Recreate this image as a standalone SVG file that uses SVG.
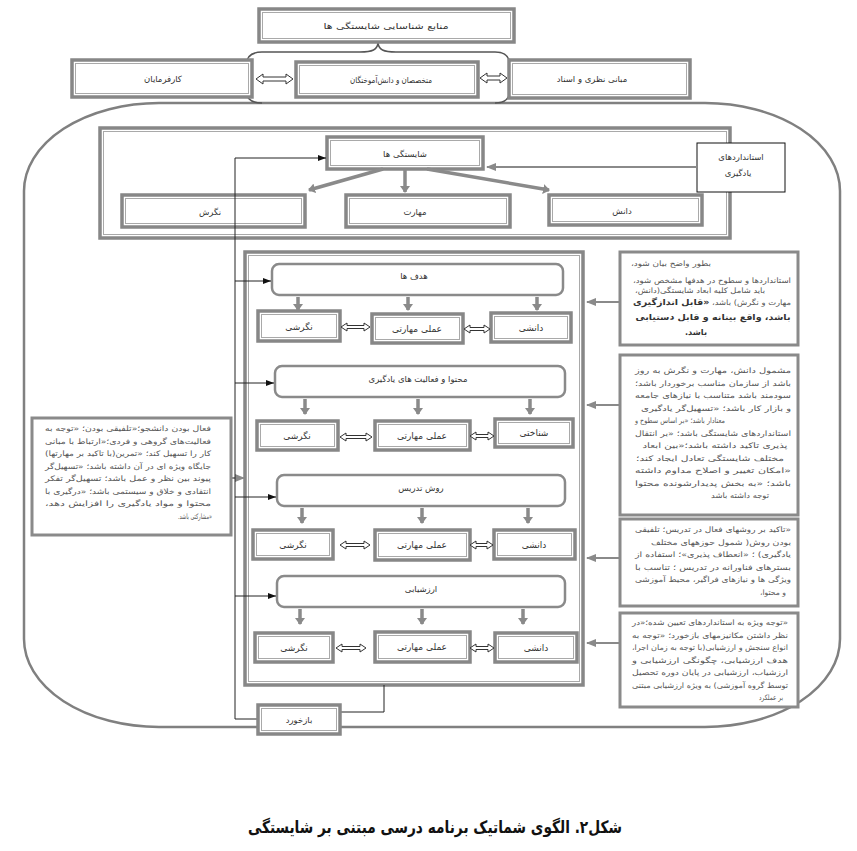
<svg xmlns="http://www.w3.org/2000/svg" width="857" height="851" viewBox="0 0 857 851">
<style>
.o{fill:#fff;stroke:#878787;stroke-width:3.5}
.i{fill:none;stroke:#a9a9a9;stroke-width:1}
.rb{fill:#fff;stroke:#8a8a8a;stroke-width:2.5}
.tb{fill:#fff;stroke:#8a8a8a;stroke-width:3}
.t{font-family:"DejaVu Sans",sans-serif;font-size:8.5px;fill:#333;text-anchor:middle;direction:rtl}
.tb9{font-family:"DejaVu Sans",sans-serif;font-size:9px;fill:#333;text-anchor:middle;direction:rtl}
.ex{font-family:"DejaVu Sans",sans-serif;font-size:7.5px;fill:#555;text-anchor:middle;direction:rtl}
.exb{font-family:"DejaVu Sans",sans-serif;font-size:8.5px;fill:#333;font-weight:bold;text-anchor:middle;direction:rtl}
.g{fill:none;stroke:#8a8a8a;stroke-width:2;marker-end:url(#gh)}
.d{fill:none;stroke:#8a8a8a;stroke-width:3.5;marker-end:url(#dh)}
.k{fill:none;stroke:#222;stroke-width:1}
.ka{fill:none;stroke:#222;stroke-width:1;marker-end:url(#kh)}
.db{fill:#fff;stroke:#333;stroke-width:1}
</style>
<defs>
<marker id="gh" markerUnits="userSpaceOnUse" markerWidth="10" markerHeight="8" refX="9" refY="4" orient="auto"><path d="M0,0 L10,4 L0,8 z" fill="#8a8a8a"/></marker>
<marker id="dh" markerUnits="userSpaceOnUse" markerWidth="7" markerHeight="10" refX="6" refY="5" orient="auto"><path d="M0,0 L7,5 L0,10 z" fill="#8a8a8a"/></marker>
<marker id="kh" markerUnits="userSpaceOnUse" markerWidth="8" markerHeight="6" refX="8" refY="3" orient="auto"><path d="M0,0 L8,3 L0,6 z" fill="#111"/></marker>
</defs>

<!-- big rounded outline -->
<rect x="24" y="103" width="816" height="624" rx="135" ry="88" fill="none" stroke="#808080" stroke-width="2.5"/>

<!-- brace -->
<path d="M378 42 C378 50 372 52 360 52 L262 52 Q246 52 246 66 L246 90 Q246 103 262 103 M378 42 C378 50 384 52 396 52 L495 52 Q510 52 510 66 L510 90 Q510 103 495 103" fill="none" stroke="#555" stroke-width="1.5"/>

<g id="sources"><rect class="o" x="259" y="9" width="255" height="33"/><rect class="i" x="262.5" y="12.5" width="248" height="26"/><text class="t" x="386" y="29" textLength="125" lengthAdjust="spacingAndGlyphs">منابع شناسایی شایستگی ها</text></g>
<g id="employers"><rect class="o" x="72" y="60" width="180" height="37"/><rect class="i" x="75.5" y="63.5" width="173" height="30"/><text class="t" x="163" y="82">کارفرمایان</text></g>
<g id="experts"><rect class="o" x="296" y="62" width="182" height="35"/><rect class="i" x="299.5" y="65.5" width="175" height="28"/><text class="t" x="391" y="83" textLength="82" lengthAdjust="spacingAndGlyphs">متخصصان و دانش‌آموختگان</text></g>
<g id="theory"><rect class="o" x="509" y="60" width="181" height="38"/><rect class="i" x="512.5" y="63.5" width="174" height="31"/><text class="t" x="592" y="82">مبانی نظری و اسناد</text></g>

<!-- competency frame -->
<g id="compFrame"><rect class="o" x="100" y="128" width="630" height="110"/><rect class="i" x="103.5" y="131.5" width="623" height="103"/></g>
<g id="competencies"><rect class="o" x="327" y="137" width="156" height="32"/><rect class="i" x="330.5" y="140.5" width="149" height="25"/><text class="t" x="405" y="157">شایستگی ها</text></g>
<g id="attitude"><rect class="o" x="122" y="195" width="183" height="32"/><rect class="i" x="125.5" y="198.5" width="176" height="25"/><text class="t" x="210" y="215">نگرش</text></g>
<g id="skill"><rect class="o" x="346" y="195" width="164" height="32"/><rect class="i" x="349.5" y="198.5" width="157" height="25"/><text class="t" x="415" y="215">مهارت</text></g>
<g id="knowledge"><rect class="o" x="549" y="195" width="153" height="30"/><rect class="i" x="552.5" y="198.5" width="146" height="23"/><text class="t" x="622" y="214">دانش</text></g>
<g id="standards"><rect x="697" y="143" width="88" height="49" fill="#fff" stroke="#111" stroke-width="1"/><text class="t" x="741" y="160">استانداردهای</text><text class="t" x="738" y="176">یادگیری</text></g>

<!-- process frame -->
<g id="processFrame"><rect class="o" x="245" y="252" width="338" height="433"/><rect class="i" x="248.5" y="255.5" width="331" height="426"/></g>

<g id="goals"><rect class="rb" x="272" y="264" width="291" height="31" rx="7"/><text class="t" x="414" y="279">هدف ها</text></g>
<g id="r1a"><rect class="o" x="258" y="311" width="82" height="30"/><rect class="i" x="261.5" y="314.5" width="75" height="23"/><text class="tb9" x="299" y="330">نگرشی</text></g>
<g id="r1b"><rect class="o" x="372" y="314" width="91" height="29"/><rect class="i" x="375.5" y="317.5" width="84" height="22"/><text class="tb9" x="417" y="332">عملی مهارتی</text></g>
<g id="r1c"><rect class="o" x="491" y="313" width="80" height="29"/><rect class="i" x="494.5" y="316.5" width="73" height="22"/><text class="tb9" x="531" y="331">دانشی</text></g>

<g id="content"><rect class="rb" x="275" y="366" width="290" height="31" rx="7"/><text class="t" x="418" y="382">محتوا و فعالیت های یادگیری</text></g>
<g id="r2a"><rect class="o" x="257" y="421" width="81" height="29"/><rect class="i" x="260.5" y="424.5" width="74" height="22"/><text class="tb9" x="297" y="439">نگرشی</text></g>
<g id="r2b"><rect class="o" x="375" y="421" width="95" height="29"/><rect class="i" x="378.5" y="424.5" width="88" height="22"/><text class="tb9" x="422" y="439">عملی مهارتی</text></g>
<g id="r2c"><rect class="o" x="495" y="419" width="78" height="28"/><rect class="i" x="498.5" y="422.5" width="71" height="21"/><text class="tb9" x="534" y="436">شناختی</text></g>

<g id="method"><rect class="rb" x="277" y="475" width="288" height="31" rx="7"/><text class="t" x="421" y="491">روش تدریس</text></g>
<g id="r3a"><rect class="o" x="253" y="530" width="80" height="29"/><rect class="i" x="256.5" y="533.5" width="73" height="22"/><text class="tb9" x="293" y="548">نگرشی</text></g>
<g id="r3b"><rect class="o" x="375" y="530" width="95" height="30"/><rect class="i" x="378.5" y="533.5" width="88" height="23"/><text class="tb9" x="422" y="548">عملی مهارتی</text></g>
<g id="r3c"><rect class="o" x="494" y="530" width="81" height="29"/><rect class="i" x="497.5" y="533.5" width="74" height="22"/><text class="tb9" x="534" y="548">دانشی</text></g>

<g id="evaluation"><rect class="rb" x="277" y="576" width="288" height="31" rx="7"/><text class="t" x="421" y="592">ارزشیابی</text></g>
<g id="r4a"><rect class="o" x="255" y="633" width="78" height="29"/><rect class="i" x="258.5" y="636.5" width="71" height="22"/><text class="tb9" x="294" y="651">نگرشی</text></g>
<g id="r4b"><rect class="o" x="375" y="632" width="95" height="30"/><rect class="i" x="378.5" y="635.5" width="88" height="23"/><text class="tb9" x="422" y="650">عملی مهارتی</text></g>
<g id="r4c"><rect class="o" x="495" y="633" width="82" height="29"/><rect class="i" x="498.5" y="636.5" width="75" height="22"/><text class="tb9" x="536" y="651">دانشی</text></g>

<!-- connectors -->
<g id="connectors">
<path class="db" d="M256 79 L263 74 L263 77 L286 77 L286 74 L293 79 L286 84 L286 81 L263 81 L263 84 Z"/>
<path class="db" d="M480 78 L487 73 L487 76 L500 76 L500 73 L507 78 L500 83 L500 80 L487 80 L487 83 Z"/>
<path class="g" d="M697 167 L487 167"/>
<path class="d" d="M383 169 L309 190"/>
<path class="d" d="M405 170 L405 192"/>
<path class="d" d="M427 169 L549 190"/>
<path class="d" d="M298 297 L298 310"/><path class="d" d="M408 297 L408 310"/><path class="d" d="M537 297 L537 310"/>
<path class="d" d="M305 399 L305 414"/><path class="d" d="M418 399 L418 414"/><path class="d" d="M530 399 L530 414"/>
<path class="d" d="M302 508 L302 523"/><path class="d" d="M422 508 L422 523"/><path class="d" d="M528 508 L528 523"/>
<path class="d" d="M300 609 L300 624"/><path class="d" d="M422 609 L422 624"/><path class="d" d="M523 609 L523 624"/>
<path class="db" d="M341 327 L347 323 L347 325.5 L364 325.5 L364 323 L370 327 L364 331 L364 328.5 L347 328.5 L347 331 Z"/>
<path class="db" d="M464 329 L470 325 L470 327.5 L484 327.5 L484 325 L490 329 L484 333 L484 330.5 L470 330.5 L470 333 Z"/>
<path class="db" d="M340 437 L346 433 L346 435.5 L366 435.5 L366 433 L372 437 L366 441 L366 438.5 L346 438.5 L346 441 Z"/>
<path class="db" d="M470 436 L476 432 L476 434.5 L488 434.5 L488 432 L494 436 L488 440 L488 437.5 L476 437.5 L476 440 Z"/>
<path class="db" d="M340 545 L346 541 L346 543.5 L364 543.5 L364 541 L370 545 L364 549 L364 546.5 L346 546.5 L346 549 Z"/>
<path class="db" d="M470 545 L476 541 L476 543.5 L487 543.5 L487 541 L493 545 L487 549 L487 546.5 L476 546.5 L476 549 Z"/>
<path class="db" d="M336 648 L342 644 L342 646.5 L360 646.5 L360 644 L366 648 L360 652 L360 649.5 L342 649.5 L342 652 Z"/>
<path class="db" d="M470 648 L476 644 L476 646.5 L488 646.5 L488 644 L494 648 L488 652 L488 649.5 L476 649.5 L476 652 Z"/>
<path class="g" d="M620 302 L587 302"/>
<path class="g" d="M620 405 L587 405"/>
<path class="g" d="M620 558 L587 558"/>
<path class="g" d="M620 643 L587 643"/>
<path class="g" d="M231 478 L244 478"/>
<path class="k" d="M384 685 L384 712 L340 712"/>
<path class="k" d="M258 719 L235 719 L235 158"/>
<path class="ka" d="M235 158 L326 158"/>
<path class="ka" d="M235 281 L271 281"/>
<path class="ka" d="M235 383 L274 383"/>
<path class="ka" d="M235 497 L276 497"/>
<path class="ka" d="M235 596 L276 596"/>
</g>

<g id="feedback"><rect class="o" x="258" y="705" width="82" height="29"/><rect class="i" x="261.5" y="708.5" width="75" height="22"/><text class="t" x="299" y="723">بازخورد</text></g>

<!-- explanatory boxes -->
<g id="note1"><rect class="tb" x="620" y="252" width="178" height="93"/>
<text class="ex" x="671" y="266" textLength="80" lengthAdjust="spacingAndGlyphs">بطور واضح بیان شود،</text>
<text class="ex" x="712" y="283" textLength="158" lengthAdjust="spacingAndGlyphs">استانداردها و سطوح در هدفها مشخص شود،</text>
<text class="ex" x="700" y="293" textLength="130" lengthAdjust="spacingAndGlyphs">باید شامل کلیه ابعاد شایستگی(دانش،</text>
<text class="exb" x="712" y="305" textLength="158" lengthAdjust="spacingAndGlyphs"><tspan style="font-weight:normal;font-size:7.5px;fill:#555">مهارت و نگرش) باشد، </tspan>«قابل اندازگیری</text>
<text class="exb" x="713" y="320" textLength="155" lengthAdjust="spacingAndGlyphs">باشد، واقع بینانه و قابل دستیابی</text>
<text class="exb" x="696" y="335" textLength="22" lengthAdjust="spacingAndGlyphs">باشد.</text></g>

<g id="note2"><rect class="tb" x="620" y="355" width="178" height="160"/>
<text class="ex" x="713" y="373" textLength="156" lengthAdjust="spacingAndGlyphs">مشمول دانش، مهارت و نگرش به روز</text>
<text class="ex" x="713" y="385.5" textLength="156" lengthAdjust="spacingAndGlyphs">باشد از سازمان مناسب برخوردار باشد؛</text>
<text class="ex" x="713" y="398" textLength="156" lengthAdjust="spacingAndGlyphs">سودمند باشد متناسب با نیازهای جامعه</text>
<text class="ex" x="716" y="410.5" textLength="150" lengthAdjust="spacingAndGlyphs">و بازار کار باشد؛ «تسهیل‌گر یادگیری</text>
<text class="ex" x="680" y="423" textLength="90" lengthAdjust="spacingAndGlyphs">معنادار باشد؛ «بر اساس سطوح و</text>
<text class="ex" x="713" y="435.5" textLength="156" lengthAdjust="spacingAndGlyphs">استانداردهای شایستگی باشد؛ «بر انتقال</text>
<text class="ex" x="715" y="448" textLength="145" lengthAdjust="spacingAndGlyphs">پذیری تاکید داشته باشد؛«بین ابعاد</text>
<text class="ex" x="710" y="460.5" textLength="148" lengthAdjust="spacingAndGlyphs">مختلف شایستگی تعادل ایجاد کند؛</text>
<text class="ex" x="713" y="473" textLength="156" lengthAdjust="spacingAndGlyphs">«امکان تغییر و اصلاح مداوم داشته</text>
<text class="ex" x="713" y="485.5" textLength="156" lengthAdjust="spacingAndGlyphs">باشد؛ «به بخش پدیدارشونده محتوا</text>
<text class="ex" x="740" y="498" textLength="58" lengthAdjust="spacingAndGlyphs">توجه داشته باشد</text></g>

<g id="note3"><rect class="tb" x="620" y="519" width="178" height="87"/>
<text class="ex" x="713" y="532" textLength="156" lengthAdjust="spacingAndGlyphs">«تاکید بر روشهای فعال در تدریس؛ تلفیقی</text>
<text class="ex" x="721" y="544.5" textLength="140" lengthAdjust="spacingAndGlyphs">بودن روش( شمول حوزههای مختلف</text>
<text class="ex" x="713" y="557" textLength="156" lengthAdjust="spacingAndGlyphs">یادگیری) ؛ «انعطاف پذیری»؛ استفاده از</text>
<text class="ex" x="713" y="569.5" textLength="156" lengthAdjust="spacingAndGlyphs">بسترهای فناورانه در تدریس ؛ تناسب با</text>
<text class="ex" x="713" y="582" textLength="156" lengthAdjust="spacingAndGlyphs">ویژگی ها و نیازهای فراگیر، محیط آموزشی</text>
<text class="ex" x="773" y="594.5" textLength="26" lengthAdjust="spacingAndGlyphs">و محتوا،</text></g>

<g id="note4"><rect class="tb" x="620" y="613" width="178" height="94"/>
<text class="ex" x="710" y="625" textLength="156" lengthAdjust="spacingAndGlyphs">«توجه ویژه به استانداردهای تعیین شده؛«در</text>
<text class="ex" x="710" y="637.5" textLength="156" lengthAdjust="spacingAndGlyphs">نظر داشتن مکانیزمهای بازخورد؛ «توجه به</text>
<text class="ex" x="710" y="650" textLength="156" lengthAdjust="spacingAndGlyphs">انواع سنجش و ارزشیابی(با توجه به زمان اجرا،</text>
<text class="ex" x="710" y="662.5" textLength="156" lengthAdjust="spacingAndGlyphs">هدف ارزشیابی، چگونگی ارزشیابی و</text>
<text class="ex" x="710" y="675" textLength="156" lengthAdjust="spacingAndGlyphs">ارزشیاب، ارزشیابی در پایان دوره تحصیل</text>
<text class="ex" x="710" y="687.5" textLength="156" lengthAdjust="spacingAndGlyphs">توسط گروه آموزشی) به ویژه ارزشیابی مبتنی</text>
<text class="ex" x="771" y="700" textLength="24" lengthAdjust="spacingAndGlyphs">بر عملکرد</text></g>

<g id="noteLeft"><rect class="tb" x="32" y="418" width="199" height="117"/>
<text class="ex" x="128" y="431" textLength="166" lengthAdjust="spacingAndGlyphs">فعال بودن دانشجو؛«تلفیقی بودن؛ «توجه به</text>
<text class="ex" x="128" y="443.5" textLength="166" lengthAdjust="spacingAndGlyphs">فعالیت‌های گروهی و فردی؛«ارتباط با مبانی</text>
<text class="ex" x="128" y="456" textLength="166" lengthAdjust="spacingAndGlyphs">کار را تسهیل کند؛ «تمرین(با تاکید بر مهارتها)</text>
<text class="ex" x="128" y="468.5" textLength="166" lengthAdjust="spacingAndGlyphs">جایگاه ویژه ای در آن داشته باشد؛ «تسهیل‌گر</text>
<text class="ex" x="128" y="481" textLength="166" lengthAdjust="spacingAndGlyphs">پیوند بین نظر و عمل باشد؛ تسهیل‌گر تفکر</text>
<text class="ex" x="128" y="493.5" textLength="166" lengthAdjust="spacingAndGlyphs">انتقادی و خلاق و سیستمی باشد؛ «درگیری با</text>
<text class="ex" x="128" y="506" textLength="166" lengthAdjust="spacingAndGlyphs">محتوا و مواد یادگیری را افزایش دهد،</text>
<text class="ex" x="195" y="518.5" textLength="34" lengthAdjust="spacingAndGlyphs">«مشارکتی باشد.</text></g>

<text x="435" y="833" textLength="374" lengthAdjust="spacingAndGlyphs" style="font-family:'DejaVu Sans',sans-serif;font-size:17px;font-weight:bold;fill:#111;text-anchor:middle;direction:rtl">شکل۲. الگوی شماتیک برنامه درسی مبتنی بر شایستگی</text>
</svg>
